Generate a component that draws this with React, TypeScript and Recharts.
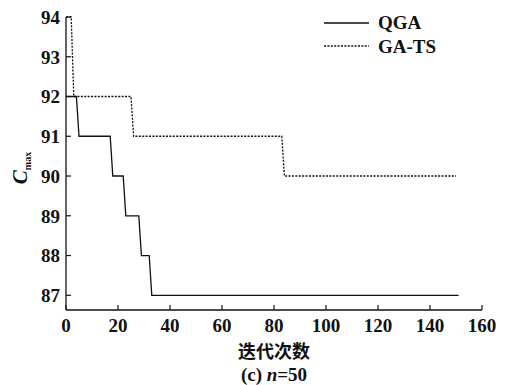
import React from 'react';
import { LineChart, Line, XAxis, YAxis } from 'recharts';

// convergence curves (iteration -> Cmax)
const qgaIter = [0, 4, 5, 17, 18, 22, 23, 28, 29, 32, 33, 151];
const qgaCmax = [92, 92, 91, 91, 90, 90, 89, 89, 88, 88, 87, 87];

const gatsIter = [0, 2, 3, 25, 26, 83, 84, 150];
const gatsCmax = [94, 94, 92, 92, 91, 91, 90, 90];

const xTicks = [0, 20, 40, 60, 80, 100, 120, 140, 160];
const yTicks = [87, 88, 89, 90, 91, 92, 93, 94];

const seriesNames = ['QGA', 'GA-TS'];

const qgaData = qgaIter.map((it, i) => ({ it, v: qgaCmax[i] }));
const gatsData = gatsIter.map((it, i) => ({ it, v: gatsCmax[i] }));

const serif = '"Liberation Serif", "Times New Roman", serif';
const tickStyle = { fontFamily: serif, fontWeight: 700, fontSize: 19, fill: '#111' };

function LegendBox() {
  const row = (name: string, dash?: string) => (
    <div key={name} style={{ display: 'flex', alignItems: 'center', height: 23.5 }}>
      <svg width={54} height={6}>
        <line x1={0} y1={3} x2={45} y2={3} stroke="#111" strokeWidth={1.3} strokeDasharray={dash} />
      </svg>
      <span style={{ fontFamily: serif, fontWeight: 700, fontSize: 19, color: '#111', lineHeight: '19px' }}>{name}</span>
    </div>
  );
  return (
    <div style={{ position: 'absolute', left: 324, top: 11 }}>
      {row(seriesNames[0])}
      {row(seriesNames[1], '2 1.4')}
    </div>
  );
}

export default function App() {
  return (
    <div style={{ position: 'absolute', left: 0, top: 0, width: 509, height: 385, background: '#fff' }}>
      <LineChart width={509} height={385} margin={{ top: 17, right: 27, bottom: 45, left: 0 }}>
        <XAxis
          dataKey="it"
          type="number"
          domain={[0, 160]}
          ticks={xTicks}
          interval={0}
          height={30}
          tickSize={-5}
          tickMargin={14}
          tick={tickStyle}
          axisLine={{ stroke: '#111', strokeWidth: 1.3 }}
          tickLine={{ stroke: '#111', strokeWidth: 1.2 }}
          allowDuplicatedCategory={false}
        />
        <YAxis
          type="number"
          domain={[86.63, 94]}
          ticks={yTicks}
          interval={0}
          width={66}
          tickSize={-5}
          tickMargin={11}
          tick={tickStyle}
          axisLine={{ stroke: '#111', strokeWidth: 1.3 }}
          tickLine={{ stroke: '#111', strokeWidth: 1.2 }}
        />
        <Line data={qgaData} dataKey="v" name={seriesNames[0]} stroke="#111" strokeWidth={1.3}
          dot={false} isAnimationActive={false} type="linear" />
        <Line data={gatsData} dataKey="v" name={seriesNames[1]} stroke="#111" strokeWidth={1.3}
          strokeDasharray="2 1.4" dot={false} isAnimationActive={false} type="linear" />
      </LineChart>

      <LegendBox />

      <div style={{ position: 'absolute', left: 20, top: 168, transform: 'translate(-50%, -50%) rotate(-90deg)',
        fontFamily: serif, fontWeight: 700, color: '#111', whiteSpace: 'nowrap' }}>
        <span style={{ fontStyle: 'italic', fontSize: 21 }}>C</span>
        <span style={{ fontSize: 10, position: 'relative', top: 4 }}>max</span>
      </div>

      <div style={{ position: 'absolute', left: 274, top: 350, transform: 'translate(-50%, -50%)',
        fontFamily: '"Noto Sans CJK SC", sans-serif', fontWeight: 700, fontSize: 18, color: '#111', whiteSpace: 'nowrap' }}>
        迭代次数
      </div>
      <div style={{ position: 'absolute', left: 274, top: 375, transform: 'translate(-50%, -50%)',
        fontFamily: serif, fontWeight: 700, fontSize: 19, color: '#111', whiteSpace: 'nowrap' }}>
        (c) <i>n</i>=50
      </div>
    </div>
  );
}
